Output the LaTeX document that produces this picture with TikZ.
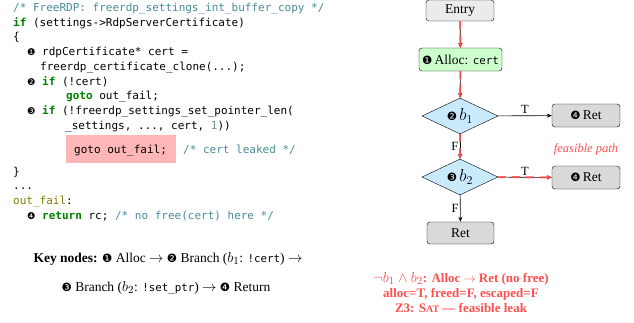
\documentclass[tikz,border=0pt]{standalone}
\usepackage{fontspec}
\setmainfont{Liberation Serif}
\setmonofont{DejaVu Sans Mono}
\newfontfamily\dejavu[Scale=0.85]{DejaVu Sans}
\newfontfamily\smono[Scale=0.8]{DejaVu Sans Mono}
\usetikzlibrary{shapes.geometric,arrows.meta}
\definecolor{cmt}{RGB}{70,140,150}
\definecolor{kwc}{RGB}{0,128,0}
\definecolor{lblc}{RGB}{128,128,0}
\definecolor{numc}{RGB}{110,150,150}
\definecolor{hl}{RGB}{255,182,182}
\definecolor{redc}{RGB}{255,80,80}
\definecolor{allocf}{RGB}{204,255,204}
\definecolor{diaf}{RGB}{200,234,250}
\definecolor{retf}{RGB}{217,217,217}
\definecolor{entf}{RGB}{235,235,235}
\newcommand\cn[1]{{\dejavu #1}}
\newcommand\kw[1]{{\color{kwc}\bfseries #1}}
\newcommand\sm[1]{{\smono #1}}
\newcommand\bm[2]{{\fontsize{#1}{#1}\selectfont$#2$}}
\begin{document}
\begin{tikzpicture}[x=1pt,y=1pt,
  code/.style={anchor=base west,inner sep=0pt,font=\fontsize{11}{13}\ttfamily},
  keytext/.style={anchor=base,inner sep=0pt,font=\fontsize{13.5}{15}\selectfont},
  box/.style={draw,rounded corners=3pt,inner sep=0pt,font=\fontsize{13.5}{15}\selectfont},
  dia/.style={draw,shape=diamond,aspect=2.1,inner sep=0pt,minimum width=76pt,minimum height=36pt,fill=diaf,font=\fontsize{13.5}{15}\selectfont},
  edge/.style={draw,line width=0.6pt,-{Stealth[length=5pt,width=4pt]}},
  redpath/.style={draw=redc,line width=2pt,dash pattern=on 8pt off 6pt,opacity=0.85,-{Stealth[length=5pt,width=5pt]}},
  elabel/.style={font=\fontsize{12.5}{14}\selectfont,inner sep=1.5pt},
  redtext/.style={anchor=base,inner sep=0pt,text=redc,font=\fontsize{13}{15}\selectfont\bfseries}]
\useasboundingbox (0,0) rectangle (634,-322);
% ---- code listing ----
\fill[hl] (66,-135) rectangle (176,-163);
\node[code] (l1) at (13,-11) {\color{cmt}/* FreeRDP: freerdp\_settings\_int\_buffer\_copy */};
\node[code] (l2) at (13,-26) {\kw{if} (settings->RdpServerCertificate)};
\node[code] (l3) at (13,-40.5) {\{};
\node[code] (l4) at (27,-55.5) {\cn{❶} rdpCertificate* cert =};
\node[code] (l5) at (40,-70) {freerdp\_certificate\_clone(...);};
\node[code] (l6) at (27,-85) {\cn{❷} \kw{if} (!cert)};
\node[code] (l7) at (66,-99.5) {\kw{goto} out\_fail;};
\node[code] (l8) at (27,-114.5) {\cn{❸} \kw{if} (!freerdp\_settings\_set\_pointer\_len(};
\node[code] (l9) at (65,-129) {\_settings, ..., cert, {\color{numc}1}))};
\node[code] (l10) at (74,-153) {goto out\_fail;};
\node[code] (l10c) at (183,-153) {\color{cmt}/* cert leaked */};
\node[code] (l11) at (13,-175) {\}};
\node[code] (l12) at (13,-189.5) {...};
\node[code] (l13) at (13,-204) {{\color{lblc}out\_fail}:};
\node[code] (l14) at (27,-219) {\cn{❹} \kw{return} rc; {\color{cmt}/* no free(cert) here */}};
% ---- key nodes ----
\node[keytext] (k1) at (168,-262) {\textbf{Key nodes:} \cn{❶} Alloc $\rightarrow$ \cn{❷} Branch (\bm{15.5}{b_1}: \sm{!cert}) $\rightarrow$};
\node[keytext] (k2) at (166,-291) {\cn{❸} Branch (\bm{15.5}{b_2}: \sm{!set\_ptr}) $\rightarrow$ \cn{❹} Return};
% ---- CFG ----
\node[box,fill=entf,minimum width=68pt,minimum height=21pt] (entry) at (460,-10.5) {Entry};
\node[box,fill=allocf,minimum width=83pt,minimum height=23pt] (alloc) at (460.5,-59.5) {\cn{❶}\,Alloc: \sm{cert}};
\node[dia] (b1) at (460,-116) {\cn{❷}\,\bm{17}{b_1}};
\node[box,fill=retf,minimum width=68pt,minimum height=23pt] (ret1) at (586,-115.5) {\cn{❹}\,Ret};
\node[dia] (b2) at (460,-177) {\cn{❸}\,\bm{17}{b_2}};
\node[box,fill=retf,minimum width=68pt,minimum height=23pt] (ret2) at (586,-177.5) {\cn{❹}\,Ret};
\node[box,fill=retf,minimum width=67pt,minimum height=22pt] (ret3) at (460.5,-233) {Ret};
% edges
\path[edge] (entry) -- (alloc);
\path[edge] (alloc) -- (b1);
\path[edge] (b1) -- node[elabel,left] {F} (b2);
\path[edge] (b1) -- node[elabel,above] {T} (ret1);
\path[edge] (b2) -- node[elabel,above] {T} (ret2);
\path[edge] (b2) -- node[elabel,left] {F} (ret3);
\path[redpath] (entry) -- (alloc);
\path[redpath] (alloc) -- (b1);
\path[redpath] (b1) -- (b2);
\path[redpath] (b2) -- (ret2);
\node[text=redc,font=\fontsize{12.5}{14}\selectfont\itshape,inner sep=0pt] (fp) at (586,-149) {feasible path};
% ---- annotation ----
\node[redtext] (r1) at (461,-282) {\bm{15}{\neg b_1 \wedge b_2}: Alloc $\rightarrow$ Ret (no free)};
\node[redtext] (r2) at (461,-297) {alloc=T, freed=F, escaped=F};
\node[redtext] (r3) at (461,-312) {Z3: S{\fontsize{10}{11}\selectfont AT} — feasible leak};
\end{tikzpicture}
\end{document}
